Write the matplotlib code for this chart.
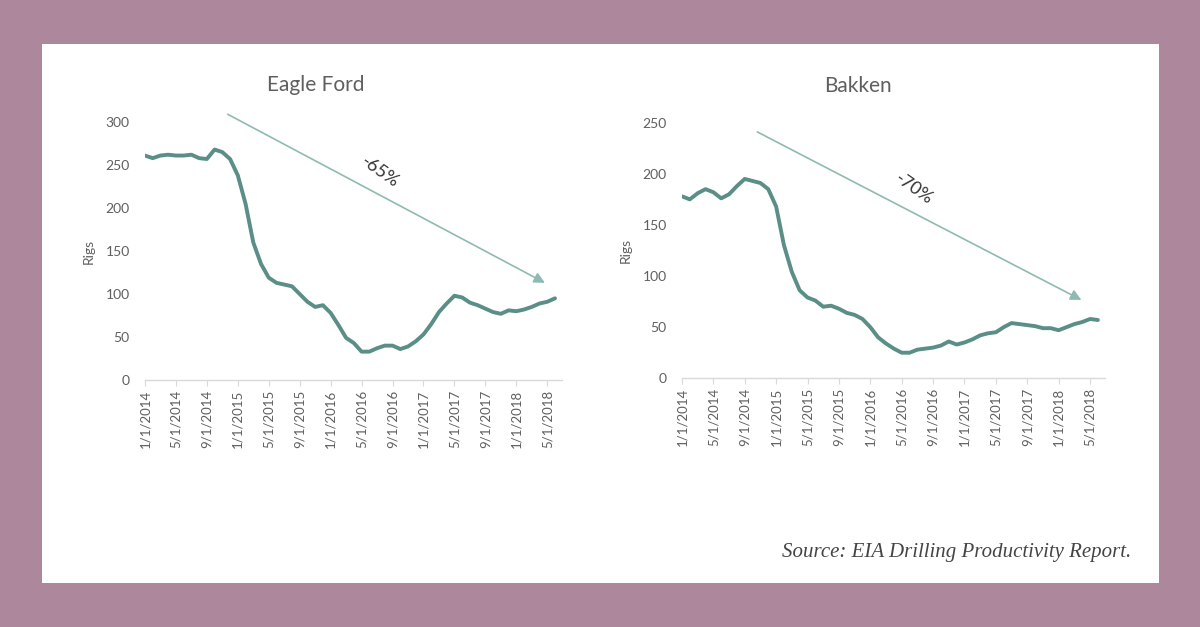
import matplotlib.pyplot as plt
from matplotlib.patches import Rectangle

# monthly rig counts, Jan 2014 .. Jun 2018
months = list(range(54))
tick_pos = list(range(0, 54, 4))
tick_labels = ['1/1/2014', '5/1/2014', '9/1/2014', '1/1/2015', '5/1/2015', '9/1/2015',
               '1/1/2016', '5/1/2016', '9/1/2016', '1/1/2017', '5/1/2017', '9/1/2017',
               '1/1/2018', '5/1/2018']

eagle_ford = [261, 258, 261, 262, 261, 261, 262, 258, 257, 268, 265, 257, 238, 205, 160,
              135, 119, 113, 111, 109, 100, 91, 85, 87, 78, 64, 49, 43, 33, 33, 37, 40,
              40, 36, 39, 45, 53, 65, 79, 89, 98, 96, 90, 87, 83, 79, 77, 81, 80, 82,
              85, 89, 91, 95]
bakken = [178, 175, 181, 185, 182, 176, 180, 188, 195, 193, 191, 185, 168, 130, 104, 86,
          79, 76, 70, 71, 68, 64, 62, 58, 50, 40, 34, 29, 25, 25, 28, 29, 30, 32, 36,
          33, 35, 38, 42, 44, 45, 50, 54, 53, 52, 51, 49, 49, 47, 50, 53, 55, 58, 57]

line_col = '#5a8e87'
arrow_col = '#8fbab2'
text_col = '#5f5f5f'

fig = plt.figure(figsize=(12, 6.27), dpi=100)
fig.patch.set_facecolor('#ad889c')
fig.add_artist(Rectangle((42/1200, 1-583/627), 1117/1200, 539/627,
                         transform=fig.transFigure, facecolor='white',
                         edgecolor='none', zorder=0))


def setup(ax, ymax, step, title, title_x):
    ax.set_facecolor('none')
    ax.set_xlim(0, 53.9)
    ax.set_ylim(0, ymax)
    ax.set_yticks(range(0, ymax + 1, step))
    ax.set_xticks(tick_pos)
    ax.set_xticklabels(tick_labels, rotation=90, fontsize=9.5, color=text_col,
                       family='Lato')
    for lab in ax.get_yticklabels():
        lab.set_fontsize(10)
        lab.set_color(text_col)
        lab.set_family('Lato')
    for s in ['top', 'right', 'left']:
        ax.spines[s].set_visible(False)
    ax.spines['bottom'].set_color('#d9d9d9')
    ax.spines['bottom'].set_linewidth(1)
    ax.tick_params(axis='x', length=4, color='#d9d9d9', pad=3)
    ax.tick_params(axis='y', length=0, pad=11)
    ax.set_ylabel('Rigs', fontsize=10, color=text_col, family='Lato', labelpad=8)
    ax.set_title(title, fontsize=15, color=text_col, family='Lato', pad=22,
                 x=title_x)


ax1 = fig.add_axes([0.1208, 0.3939, 0.3475, 0.4115])
setup(ax1, 300, 50, 'Eagle Ford', 0.41)
ax1.plot(months, eagle_ford, color=line_col, lw=2.8, solid_capstyle='round')
ax1.annotate('', xy=(51.7, 113), xytext=(10.7, 309), annotation_clip=False,
             arrowprops=dict(arrowstyle='-|>', color=arrow_col, lw=1.2,
                             mutation_scale=16, shrinkA=0, shrinkB=0))
ax1.text(30.4, 242, '-65%', rotation=-35, fontsize=13, color='#333333',
         family='Lato', ha='center', va='center')

ax2 = fig.add_axes([0.5683, 0.3967, 0.3525, 0.4076])
setup(ax2, 250, 50, 'Bakken', 0.416)
ax2.plot(months, bakken, color=line_col, lw=2.8, solid_capstyle='round')
ax2.annotate('', xy=(50.9, 76.6), xytext=(9.6, 241), annotation_clip=False,
             arrowprops=dict(arrowstyle='-|>', color=arrow_col, lw=1.2,
                             mutation_scale=16, shrinkA=0, shrinkB=0))
ax2.text(29.5, 185, '-70%', rotation=-35, fontsize=13, color='#333333',
         family='Lato', ha='center', va='center')

fig.text(1131/1200, 1-552/627, 'Source: EIA Drilling Productivity Report.',
         ha='right', va='center', fontsize=15, style='italic',
         family='Liberation Serif', color='#444444')

fig.savefig('out.png', dpi=100, facecolor=fig.get_facecolor())
